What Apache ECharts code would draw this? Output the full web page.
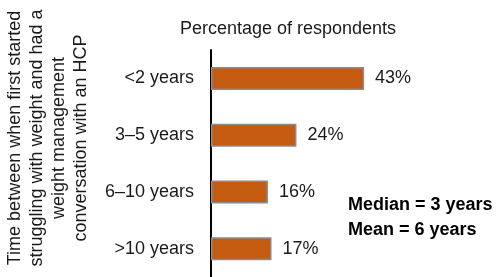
<!DOCTYPE html>
<html>
<head>
<meta charset="utf-8">
<script src="https://cdn.jsdelivr.net/npm/echarts@6/dist/echarts.min.js"></script>
<style>
html,body{margin:0;padding:0;background:#fff;}
#chart{width:496px;height:277px;}
</style>
</head>
<body>
<div id="chart"></div>
<script>
var categories = ['<2 years', '3\u20135 years', '6\u201310 years', '>10 years'];
var values = [43, 24, 16, 17];
var chartTitle = 'Percentage of respondents';
var axisTitleLines = ['Time between when first started', 'struggling with weight and had a', 'weight management', 'conversation with an HCP'];
var statLines = ['Median = 3 years', 'Mean = 6 years'];

var FONT = '"Liberation Sans", Arial, Helvetica, sans-serif';
var chart = echarts.init(document.getElementById('chart'), null, {renderer: 'canvas'});
chart.setOption({
  animation: false,
  backgroundColor: '#ffffff',
  grid: {left: 211, top: 50, bottom: 0, right: 107, containLabel: false},
  xAxis: {
    type: 'value', min: 0, max: 50,
    show: false
  },
  yAxis: {
    type: 'category', data: categories, inverse: true,
    axisLine: {show: true, lineStyle: {color: '#000', width: 2}},
    axisTick: {show: false},
    axisLabel: {color: '#1a1a1a', fontSize: 18, fontFamily: FONT, margin: 17}
  },
  series: [{
    type: 'bar',
    data: values,
    barWidth: 23,
    itemStyle: {color: '#c55a11', borderColor: '#8c8c8c', borderWidth: 1.5},
    label: {
      show: true, position: 'right', distance: 11,
      formatter: '{c}%', color: '#1a1a1a', fontSize: 18, fontFamily: FONT
    }
  }],
  graphic: [
    {
      type: 'text', x: 288, y: 29,
      style: {text: chartTitle, font: '18px ' + FONT, fill: '#1a1a1a', textAlign: 'center', textVerticalAlign: 'middle'}
    },
    {
      type: 'text', x: 48, y: 138, rotation: Math.PI / 2,
      style: {text: axisTitleLines.join('\n'), font: '18px ' + FONT, lineHeight: 22, fill: '#1a1a1a', textAlign: 'center', textVerticalAlign: 'middle'}
    },
    {
      type: 'text', x: 348, y: 205,
      style: {text: statLines[0], font: 'bold 18px ' + FONT, fill: '#000', textAlign: 'left', textVerticalAlign: 'middle'}
    },
    {
      type: 'text', x: 348, y: 230,
      style: {text: statLines[1], font: 'bold 18px ' + FONT, fill: '#000', textAlign: 'left', textVerticalAlign: 'middle'}
    }
  ]
});
</script>
</body>
</html>
